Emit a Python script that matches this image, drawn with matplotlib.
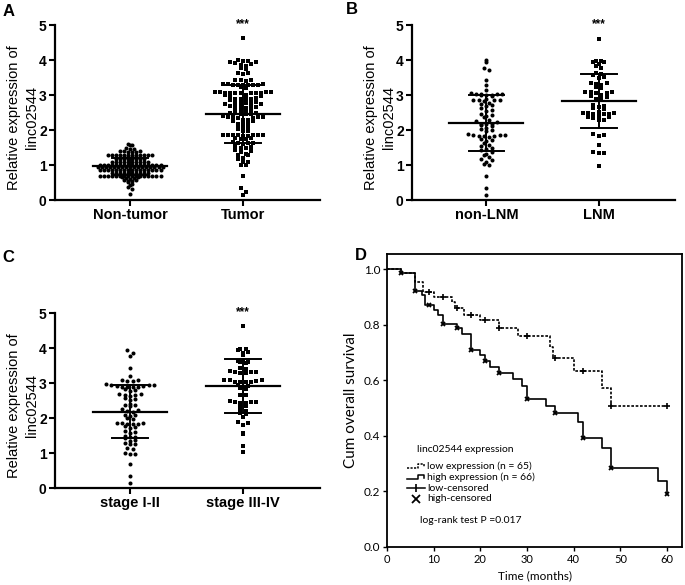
import numpy as np
import matplotlib
matplotlib.use("Agg")
import matplotlib.pyplot as plt

plt.rcParams['font.family'] = ['Liberation Sans', 'DejaVu Sans']

# ---------------- data ----------------
non_tumor = [0.17, 0.31, 0.36, 0.43, 0.46, 0.52, 0.54, 0.55, 0.56, 0.58, 0.61,
             0.63, 0.64, 0.65, 0.66,
             0.70, 0.70, 0.70, 0.70, 0.70, 0.70, 0.70, 0.70, 0.70, 0.70, 0.70, 0.70, 0.70, 0.70, 0.70, 0.70,
             0.77, 0.77, 0.77, 0.77, 0.77, 0.77, 0.77, 0.77, 0.77, 0.77,
             0.85, 0.85, 0.85, 0.85, 0.85, 0.85, 0.85, 0.85, 0.85, 0.85, 0.85, 0.85, 0.85, 0.85, 0.85, 0.85,
             0.93, 0.93, 0.93, 0.93, 0.93, 0.93, 0.93, 0.93, 0.93, 0.93, 0.93, 0.93, 0.93, 0.93, 0.93, 0.93, 0.93,
             1.00, 1.00, 1.00, 1.00, 1.00, 1.00, 1.00, 1.00, 1.00, 1.00, 1.00, 1.00, 1.00, 1.00, 1.00, 1.00,
             1.08, 1.08, 1.08, 1.08, 1.08, 1.08, 1.08, 1.08, 1.08, 1.08,
             1.16, 1.16, 1.16, 1.16, 1.16, 1.16, 1.16, 1.16,
             1.22, 1.22, 1.22, 1.22,
             1.29, 1.29, 1.29, 1.29, 1.29, 1.29, 1.29, 1.29, 1.29, 1.29, 1.29, 1.29,
             1.37, 1.38, 1.38, 1.39, 1.4, 1.41, 1.46, 1.48, 1.47, 1.56, 1.58, 1.59]
tumor = [4.62, 4.0, 3.98, 3.97, 3.95, 3.93, 3.92, 3.9, 3.86, 3.84, 3.77, 3.75,
         3.63, 3.62, 3.6, 3.44, 3.43, 3.42, 3.41,
         3.32, 3.31, 3.31, 3.3, 3.3, 3.3, 3.29, 3.29, 3.28, 3.23, 3.21,
         3.09, 3.08, 3.08, 3.08, 3.07, 3.07, 3.07, 3.06, 3.06, 3.05, 3.05,
         3.0, 2.99, 2.98, 2.97, 2.91, 2.9, 2.9, 2.89, 2.88, 2.87,
         2.79, 2.78, 2.78, 2.77, 2.76, 2.75, 2.74, 2.68, 2.67, 2.67, 2.66, 2.65, 2.64,
         2.58, 2.57, 2.56, 2.55, 2.49, 2.48, 2.48, 2.47, 2.46, 2.45,
         2.39, 2.38, 2.38, 2.37, 2.36, 2.35, 2.34, 2.29, 2.28, 2.27, 2.26,
         2.18, 2.17, 2.16, 2.15, 2.06, 2.05, 2.03, 1.98, 1.96,
         1.87, 1.87, 1.86, 1.86, 1.86, 1.85, 1.85, 1.84, 1.84,
         1.77, 1.76, 1.75, 1.74, 1.65, 1.64, 1.63, 1.62, 1.61,
         1.53, 1.52, 1.5, 1.49, 1.42, 1.4, 1.38, 1.32, 1.3, 1.28,
         1.2, 1.18, 1.1, 1.08, 1.01, 0.99, 0.7, 0.34, 0.24, 0.13]

non_lnm = [4.0, 3.93, 3.78, 3.72, 3.42, 3.28, 3.14,
           3.05, 3.04, 3.03, 3.02, 3.02, 3.01, 3.0, 2.99, 2.98,
           2.88, 2.87, 2.86, 2.86, 2.85, 2.84,
           2.76, 2.74, 2.72, 2.68, 2.62, 2.58, 2.55,
           2.45, 2.43, 2.4, 2.36, 2.3, 2.27, 2.24,
           2.18, 2.17, 2.16, 2.14, 2.12, 2.05, 2.03, 2.0, 1.96,
           1.88, 1.87, 1.86, 1.85, 1.84, 1.83, 1.82, 1.8,
           1.75, 1.72, 1.68, 1.62, 1.56, 1.53, 1.5,
           1.45, 1.42, 1.38, 1.32, 1.3, 1.22, 1.18, 1.15,
           1.08, 1.04, 1.0, 0.7, 0.33, 0.14]
lnm = [4.6, 3.98, 3.96, 3.95, 3.93, 3.9, 3.82, 3.78, 3.63, 3.6, 3.58, 3.52, 3.48,
       3.34, 3.33, 3.32, 3.3, 3.22, 3.2,
       3.1, 3.09, 3.08, 3.07, 3.05, 3.0, 2.98, 2.95, 2.9, 2.88,
       2.72, 2.7, 2.65, 2.63, 2.6,
       2.52, 2.5, 2.49, 2.48, 2.47, 2.46, 2.45,
       2.4, 2.38, 2.36, 2.35, 2.3, 2.28,
       1.9, 1.86, 1.84, 1.57, 1.36, 1.34, 1.33, 0.97]

stage_12 = [3.94, 3.85, 3.77, 3.42, 3.2,
            3.1, 3.08, 3.06, 3.05,
            2.96, 2.95, 2.94, 2.93, 2.92, 2.91, 2.9, 2.9, 2.89, 2.88,
            2.83, 2.8, 2.78, 2.7, 2.68, 2.67, 2.65, 2.64, 2.57, 2.55, 2.52,
            2.4, 2.38, 2.36, 2.34, 2.27, 2.24, 2.2, 2.18,
            2.1, 2.08, 2.06, 2.0, 1.98,
            1.87, 1.86, 1.85, 1.84, 1.83, 1.82, 1.76, 1.74, 1.72,
            1.62, 1.6, 1.57, 1.48, 1.46, 1.45, 1.43,
            1.36, 1.34, 1.3, 1.27, 1.25, 1.14, 1.12, 1.0, 0.98, 0.96,
            0.7, 0.34, 0.15]
stage_34 = [4.63, 3.98, 3.96, 3.94, 3.9, 3.86, 3.8,
            3.62, 3.61, 3.6, 3.59, 3.58, 3.43, 3.41,
            3.33, 3.32, 3.32, 3.31, 3.3, 3.3,
            3.1, 3.09, 3.08, 3.05, 3.04, 3.04, 3.03, 3.02,
            2.94, 2.92, 2.9, 2.85, 2.84, 2.67, 2.65,
            2.48, 2.47, 2.46, 2.45, 2.44, 2.43,
            2.34, 2.33, 2.22, 2.2, 2.13, 2.12, 2.02,
            1.89, 1.87, 1.8, 1.56, 1.55, 1.2, 1.03]

# mean and SD bars as drawn
mean_a, sd_a = [0.96, 2.47], [0.24, 0.83]
mean_b, sd_b = [2.21, 2.83], [0.80, 0.77]
mean_c, sd_c = [2.18, 2.91], [0.76, 0.78]

labels_a = ['Non-tumor', 'Tumor']
labels_b = ['non-LNM', 'LNM']
labels_c = ['stage I-II', 'stage III-IV']

# Kaplan-Meier curves
low_t = [0, 3, 6, 7.8, 10, 14, 14.6, 16.4, 19.9, 24, 28, 35, 35.6, 40, 46, 48, 60]
low_s = [1.0, 0.986, 0.954, 0.918, 0.90, 0.882, 0.86, 0.836, 0.817, 0.788, 0.758,
         0.72, 0.68, 0.634, 0.572, 0.508, 0.508]
low_cens = [9, 12, 15, 18, 21, 24, 30, 36, 42, 48, 60]
high_t = [0, 3, 6, 7.4, 8.1, 10, 11, 12, 15, 16, 18, 20, 21, 22, 24, 27, 29, 30,
          34, 36, 41, 42, 46, 48, 58, 60]
high_s = [1.0, 0.986, 0.922, 0.906, 0.872, 0.854, 0.836, 0.804, 0.788, 0.768, 0.710,
          0.690, 0.670, 0.647, 0.628, 0.604, 0.578, 0.532, 0.506, 0.482, 0.449,
          0.392, 0.356, 0.284, 0.238, 0.191]
high_cens = [3, 6, 9, 12, 15, 18, 21, 24, 30, 36, 42, 48, 60]


def spread(vals, dy=0.1, dx=0.036):
    # Prism-like column scatter: points sharing a y-bin are laid side by side
    vals = np.asarray(vals, float)
    bins = np.floor(vals / dy + 1e-6).astype(int)
    xs = np.zeros(len(vals))
    for b in np.unique(bins):
        idx = np.where(bins == b)[0]
        idx = idx[np.argsort(vals[idx], kind='stable')]
        n = len(idx)
        slots = (np.arange(n) - (n - 1) / 2.0)
        # interleave so neighbouring values alternate left / right
        order = np.argsort(np.abs(slots) + 0.01 * (slots < 0), kind='stable')
        xs[idx] = slots[order] * dx
    return xs


def column_panel(ax, groups, means, sds, labels, bin_h, bin_w):
    for k, (vals, m) in enumerate(zip(groups, ['o', 's'])):
        c = k + 1
        x = c + spread(vals, dy=bin_h[k], dx=bin_w[k])
        ax.plot(x, vals, ls='none', marker=m, ms=2.9 if m == 'o' else 2.6,
                color='black', mew=0, zorder=2)
        mu, sd = means[k], sds[k]
        ax.plot([c - 0.33, c + 0.33], [mu, mu], color='black', lw=1.6, zorder=3)
        ax.plot([c, c], [mu - sd, mu + sd], color='black', lw=1.4, zorder=3)
        for yy in (mu - sd, mu + sd):
            ax.plot([c - 0.16, c + 0.16], [yy, yy], color='black', lw=1.4, zorder=3)
    ax.set_xlim(0.336, 2.681)
    ax.set_ylim(0, 5)
    ax.spines['top'].set_visible(False)
    ax.spines['right'].set_visible(False)
    for s in ('left', 'bottom'):
        ax.spines[s].set_linewidth(1.6)
    ax.set_yticks(range(6))
    ax.set_xticks([1, 2])
    ax.set_xticklabels(labels, fontsize=10.5, fontweight='bold')
    for t in ax.get_yticklabels():
        t.set_fontweight('bold')
        t.set_fontsize(10)
    ax.tick_params(direction='out', length=4, width=1.5, pad=2)
    ax.set_ylabel('Relative expression of\nlinc02544', fontsize=10.5,
                  linespacing=1.3)
    ax.yaxis.set_label_coords(-0.062, 0.47)
    ax.text(2, 5.02, '***', ha='center', va='center', fontsize=8.5,
            fontweight='bold', clip_on=False)


fig = plt.figure(figsize=(6.85, 5.85), dpi=100)

ax_a = fig.add_axes([0.0803, 0.6581, 0.3869, 0.2991])
ax_b = fig.add_axes([0.6015, 0.6581, 0.3839, 0.2991])
ax_c = fig.add_axes([0.0803, 0.1658, 0.3869, 0.2991])
ax_d = fig.add_axes([0.5650, 0.0650, 0.4307, 0.5009])

column_panel(ax_a, [non_tumor, tumor], mean_a, sd_a, labels_a, [0.075, 0.12], [0.036, 0.045])
column_panel(ax_b, [non_lnm, lnm], mean_b, sd_b, labels_b, [0.12, 0.12], [0.047, 0.047])
column_panel(ax_c, [stage_12, stage_34], mean_c, sd_c, labels_c, [0.12, 0.12], [0.047, 0.047])

# ---------------- panel D ----------------
dfont = ['Lato', 'DejaVu Sans']
ax_d.plot(low_t, low_s, drawstyle='steps-post', color='black', lw=1.2,
          ls=(0, (1.6, 1.0)))
ax_d.plot(high_t, high_s, drawstyle='steps-post', color='black', lw=1.2)

lt, ls_ = np.array(low_t), np.array(low_s)
ly = ls_[np.searchsorted(lt, low_cens, side='right') - 1]
ax_d.plot(low_cens, ly, ls='none', marker='+', ms=5, mew=1.2, color='black')
ht, hs = np.array(high_t), np.array(high_s)
hy = hs[np.searchsorted(ht, high_cens, side='right') - 1]
ax_d.plot(high_cens, hy, ls='none', marker='x', ms=3, mew=1.3, color='black')

ax_d.set_xlim(0, 63.2)
ax_d.set_ylim(0, 1.055)
ax_d.set_xticks(range(0, 61, 10))
ax_d.set_yticks([0, 0.2, 0.4, 0.6, 0.8, 1.0])
ax_d.set_yticklabels(['0.0', '0.2', '0.4', '0.6', '0.8', '1.0'])
for s in ax_d.spines.values():
    s.set_linewidth(1.3)
ax_d.tick_params(direction='out', length=3, width=1, pad=2)
for t in ax_d.get_xticklabels():
    t.set_family(dfont)
    t.set_fontsize(8)
for t in ax_d.get_yticklabels():
    t.set_family(dfont)
    t.set_fontsize(8.5)
ax_d.set_xlabel('Time (months)', family=dfont, fontsize=8.5, labelpad=4)
ax_d.set_ylabel('Cum overall survival', family=dfont, fontsize=11, labelpad=4)

# legend drawn by hand in axes coordinates
tr = ax_d.transAxes
ax_d.text(0.102, 0.331, 'linc02544 expression', transform=tr, family=dfont,
          fontsize=7.5, va='center')
ax_d.plot([0.068, 0.105, 0.105, 0.125, 0.125], [0.270, 0.270, 0.283, 0.283, 0.272],
          transform=tr, color='black', lw=1.1, ls=(0, (1.4, 0.9)))
ax_d.plot([0.068, 0.105, 0.105, 0.125, 0.125], [0.232, 0.232, 0.245, 0.245, 0.234],
          transform=tr, color='black', lw=1.1)
ax_d.plot([0.068, 0.128], [0.201, 0.201], transform=tr, color='black', lw=1.1)
ax_d.plot([0.098], [0.201], transform=tr, marker='|', ms=6, mew=1.2, color='black')
ax_d.plot([0.098], [0.164], transform=tr, marker='x', ms=6, mew=1.3, color='black')
legend_labels = ['low expression (n = 65)', 'high expression (n = 66)',
                 'low-censored', 'high-censored']
for yy, lab in zip([0.276, 0.239, 0.201, 0.164], legend_labels):
    ax_d.text(0.136, yy, lab, transform=tr, family=dfont, fontsize=7.5, va='center')
ax_d.text(0.112, 0.092, 'log-rank test P =0.017', transform=tr, family=dfont,
          fontsize=7.5, va='center')

# panel letters
for x, y, s in [(9, 11, 'A'), (352, 10, 'B'), (8, 257, 'C'), (361, 255, 'D')]:
    fig.text(x / 685, 1 - y / 585, s, ha='center', va='center', fontsize=12,
             fontweight='bold')

fig.savefig('out.png', dpi=100)
